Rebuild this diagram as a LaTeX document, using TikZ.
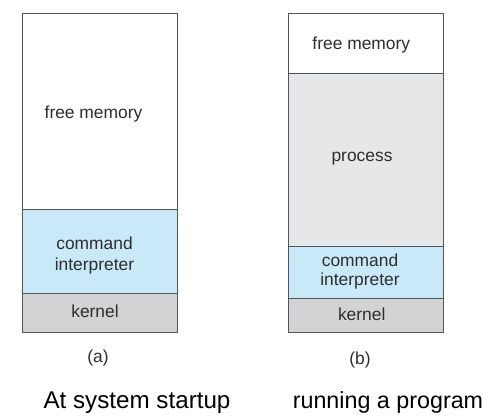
\documentclass[tikz,border=0pt]{standalone}
\usepackage{fontspec}
\setmainfont{Liberation Sans}
\definecolor{cmdblue}{HTML}{C9E9F9}
\definecolor{kerngray}{HTML}{D2D3D5}
\definecolor{procgray}{HTML}{E6E7E9}
\definecolor{edge}{HTML}{50565A}
\definecolor{txt}{HTML}{2E2E2E}
\begin{document}
\begin{tikzpicture}[x=1pt,y=-1pt,
  seg/.style={draw=edge,line width=1pt},
  lbl/.style={text=txt,font=\fontsize{17.4}{20}\selectfont,inner sep=0pt,anchor=base},
  captext/.style={text=black,font=\fontsize{24.2}{28}\selectfont,inner sep=0pt,anchor=base}]
\useasboundingbox (0,0) rectangle (491,420);
% (a)
\path[seg,fill=white] (22,13.5) rectangle (177,210) node[midway] (afree) {};
\path[seg,fill=cmdblue] (22,210) rectangle (177,293) node[midway] (acmd) {};
\path[seg,fill=kerngray] (22,293) rectangle (177,332) node[midway] (akern) {};
\node[lbl] (tafree) at (93.5,118.5) {free memory};
\node[lbl] (tacmd1) at (94.5,250) {command};
\node[lbl] (tacmd2) at (94.5,270) {interpreter};
\node[lbl] (takern) at (95,317.5) {kernel};
\node[lbl] (la) at (98,362) {(a)};
\node[captext] (ca) at (137,408) {At system startup};
% (b)
\path[seg,fill=white] (288,13.5) rectangle (443.5,74) node[midway] (bfree) {};
\path[seg,fill=procgray] (288,74) rectangle (443.5,246.5) node[midway] (bproc) {};
\path[seg,fill=cmdblue] (288,246.5) rectangle (443.5,298) node[midway] (bcmd) {};
\path[seg,fill=kerngray] (288,298) rectangle (443.5,332) node[midway] (bkern) {};
\node[lbl] (tbfree) at (361.3,49.5) {free memory};
\node[lbl] (tbproc) at (362,161) {process};
\node[lbl] (tbcmd1) at (360,266) {command};
\node[lbl] (tbcmd2) at (360,286) {interpreter};
\node[lbl] (tbkern) at (361.7,320) {kernel};
\node[lbl] (lb) at (360,364) {(b)};
\node[captext,font=\fontsize{23.3}{28}\selectfont] (cb) at (388,408) {running a program};
\end{tikzpicture}
\end{document}
